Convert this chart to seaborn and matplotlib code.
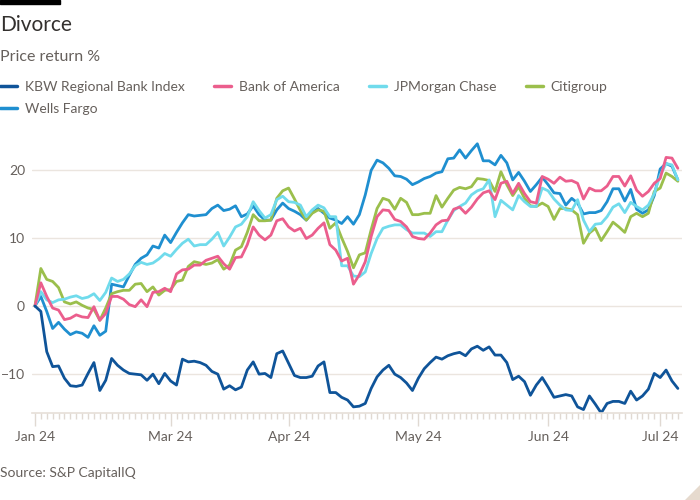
import pandas as pd
import matplotlib.pyplot as plt
import seaborn as sns
from matplotlib.lines import Line2D
from matplotlib.patches import Rectangle, Polygon

# --- dados (retorno de preço %, dias úteis desde 29 jan 2024) ---
kbw = [0, -0.8, -6.7, -8.9, -8.8, -10.6, -11.7, -11.8, -11.6, -9.9,
       -8.3, -12.4, -10.9, -7.7, -8.7, -9.4, -9.9, -10.0, -10.1, -10.9,
       -10.0, -11.4, -9.9, -11.0, -11.6, -7.8, -8.2, -8.1, -8.3, -8.7,
       -9.6, -10.0, -12.2, -11.7, -12.3, -11.9, -9.4, -8.2, -10.0, -9.9,
       -10.5, -7.0, -6.6, -8.4, -10.2, -10.5, -10.5, -10.3, -8.8, -8.2,
       -12.7, -12.7, -13.4, -13.8, -14.8, -14.7, -14.3, -12.1, -10.4, -9.4,
       -8.7, -10.0, -10.5, -11.3, -12.4, -10.6, -9.2, -8.3, -7.5, -7.8,
       -7.3, -7.0, -6.8, -7.3, -6.3, -5.9, -6.5, -6.0, -7.2, -7.2,
       -8.3, -10.8, -10.3, -11.1, -13.1, -11.6, -10.5, -11.9, -13.4, -13.2,
       -13.0, -13.2, -14.8, -15.2, -13.2, -14.4, -15.7, -14.3, -14.0, -14.0,
       -14.3, -12.5, -13.8, -13.2, -12.2, -9.9, -10.5, -9.4, -11.0, -12.1]
bank_of_america = [0, 3.4, 1.4, -0.3, -0.6, -2.0, -1.8, -1.3, -1.6, -1.7,
                   -0.1, -2.1, -1.1, 1.4, 1.4, 1.0, 0.2, -0.1, 0.9, -0.1,
                   2.0, 2.1, 2.6, 2.1, 4.7, 5.3, 5.4, 6.0, 6.0, 6.7,
                   7.0, 7.3, 6.2, 5.4, 7.1, 7.2, 9.0, 11.6, 10.4, 9.7,
                   10.4, 12.5, 12.8, 11.6, 11.0, 11.4, 9.9, 10.4, 11.4, 12.2,
                   9.0, 8.2, 6.6, 7.0, 3.2, 4.6, 6.5, 10.2, 13.1, 14.1,
                   14.0, 12.7, 12.4, 11.6, 10.2, 9.9, 9.8, 10.7, 11.9, 12.5,
                   12.6, 14.2, 14.5, 13.6, 14.5, 15.7, 16.6, 16.9, 15.6, 18.0,
                   18.3, 16.5, 18.0, 16.5, 15.3, 15.1, 19.0, 18.6, 18.0, 18.9,
                   18.3, 18.4, 18.0, 15.7, 17.3, 16.9, 16.9, 17.6, 19.0, 19.0,
                   17.6, 19.1, 17.0, 16.1, 16.8, 18.0, 18.7, 21.8, 21.7, 20.2]
jpmorgan = [0, 2.1, 0.9, 0.5, 0.9, 1.0, 1.3, 1.5, 1.1, 1.3,
            1.8, 0.8, 2.0, 4.1, 3.6, 3.9, 4.7, 5.9, 6.4, 6.1,
            6.3, 6.9, 7.7, 7.3, 8.3, 9.2, 9.8, 8.8, 9.0, 9.0,
            9.8, 10.8, 8.8, 10.1, 11.6, 12.0, 13.1, 15.3, 14.0, 12.9,
            13.4, 15.6, 16.1, 15.3, 15.2, 14.8, 13.1, 14.1, 14.8, 14.4,
            13.1, 13.1, 5.9, 5.9, 4.4, 4.3, 5.0, 7.7, 9.9, 11.4,
            11.7, 11.9, 11.9, 11.2, 10.7, 10.7, 10.7, 10.2, 10.9, 10.9,
            12.6, 14.0, 14.6, 15.1, 16.3, 16.9, 17.2, 18.5, 13.1, 15.5,
            14.8, 14.1, 16.2, 15.3, 14.6, 14.6, 17.3, 16.9, 15.7, 14.8,
            14.1, 14.0, 15.6, 12.6, 10.9, 12.0, 12.1, 13.1, 14.5, 15.0,
            13.7, 15.2, 14.6, 14.1, 14.8, 16.5, 19.2, 20.9, 20.7, 18.5]
citigroup = [0, 5.5, 3.9, 3.6, 2.7, 0.6, 0.3, 0.6, 0.1, -0.3,
             -0.5, -2.1, -0.3, 1.8, 2.1, 2.3, 2.3, 3.2, 3.3, 2.1,
             2.8, 1.6, 2.3, 2.4, 3.6, 3.8, 5.8, 6.5, 6.3, 6.1,
             6.3, 6.8, 5.4, 6.0, 8.2, 8.7, 10.8, 13.4, 12.5, 12.5,
             12.6, 15.8, 16.9, 17.3, 15.7, 14.0, 12.6, 13.6, 14.1, 13.9,
             11.4, 12.2, 10.0, 8.0, 5.6, 7.5, 7.8, 11.2, 14.3, 15.8,
             15.5, 14.2, 15.8, 15.2, 13.4, 13.4, 13.6, 13.6, 16.2, 14.5,
             15.8, 17.0, 17.4, 17.2, 17.5, 18.7, 18.6, 18.4, 16.8, 19.7,
             17.8, 16.2, 17.5, 15.8, 14.7, 14.6, 15.1, 14.6, 12.7, 14.3,
             14.3, 14.1, 13.4, 9.2, 10.7, 11.4, 9.6, 10.9, 12.3, 11.6,
             10.8, 13.1, 13.6, 13.1, 13.6, 16.8, 17.3, 19.5, 19.0, 18.3]
wells_fargo = [0, 1.4, -0.8, -3.3, -2.4, -3.4, -4.2, -3.8, -4.0, -4.6,
               -2.9, -4.3, -3.7, 3.2, 3.0, 2.8, 4.5, 6.1, 7.0, 7.5,
               8.8, 8.5, 10.4, 9.3, 10.8, 12.2, 13.4, 13.2, 13.3, 13.4,
               14.3, 14.8, 14.0, 14.2, 14.7, 13.1, 13.5, 14.7, 13.4, 12.6,
               12.6, 14.1, 15.1, 14.3, 13.9, 13.4, 12.6, 13.7, 14.3, 13.6,
               12.9, 12.6, 12.1, 13.1, 12.0, 13.4, 16.3, 19.9, 21.4, 21.0,
               20.2, 19.1, 19.0, 18.6, 17.8, 18.2, 18.7, 19.0, 19.5, 19.7,
               21.6, 21.7, 22.9, 21.7, 22.8, 23.8, 21.3, 21.3, 20.7, 22.1,
               21.0, 18.5, 19.6, 18.3, 16.8, 17.8, 18.9, 17.8, 16.6, 16.5,
               14.8, 15.8, 15.1, 13.5, 13.7, 13.7, 14.0, 15.3, 17.2, 17.2,
               15.4, 17.1, 14.2, 13.6, 14.1, 16.2, 20.1, 20.9, 20.5, 18.5]

feriados = ['2024-02-19', '2024-03-29', '2024-05-27', '2024-06-19', '2024-07-04']
datas = pd.bdate_range('2024-01-29', '2024-07-05')
datas = datas[~datas.isin(pd.to_datetime(feriados))]

series = {
    'KBW Regional Bank Index': kbw,
    'Bank of America': bank_of_america,
    'JPMorgan Chase': jpmorgan,
    'Citigroup': citigroup,
    'Wells Fargo': wells_fargo,
}
cores = {
    'KBW Regional Bank Index': '#0f5499',
    'Bank of America': '#eb5e8d',
    'JPMorgan Chase': '#70dbec',
    'Citigroup': '#9bbf4c',
    'Wells Fargo': '#1f8fd0',
}

df = pd.concat([
    pd.DataFrame({'dia': range(len(datas)), 'data': datas, 'serie': nome, 'valor': vals})
    for nome, vals in series.items()
])

sns.set_theme(style='white')
plt.rcParams['font.family'] = ['Lato', 'DejaVu Sans']

texto = '#66605c'
grade = '#ebe5df'

fig = plt.figure(figsize=(7, 5), dpi=100)
ax = fig.add_axes([32 / 700, 1 - 413 / 500, 650 / 700, 274 / 500])

# ordem de desenho: rosa por cima
ordem = ['Wells Fargo', 'Citigroup', 'JPMorgan Chase', 'Bank of America', 'KBW Regional Bank Index']
sns.lineplot(data=df, x='dia', y='valor', hue='serie', hue_order=ordem, palette=cores,
             linewidth=2.0, legend=False, ax=ax)

ax.set_xlim(-0.5, 109.7)
ax.set_ylim(-15.7, 24.5)
ax.set_yticks([-10, 0, 10, 20])
ax.yaxis.grid(True, color=grade, linewidth=1)
ax.xaxis.grid(False)
for lado in ['top', 'right', 'left']:
    ax.spines[lado].set_visible(False)
ax.spines['bottom'].set_color('#e6dfd8')
ax.spines['bottom'].set_linewidth(1.2)

# rótulos no primeiro dia útil de cada mês (fev omitido, colado em jan)
dias = pd.Series(range(len(datas)), index=datas)
primeiros = dias.groupby(datas.month).min().drop(2)
ax.set_xticks(list(primeiros.values))
ax.set_xticklabels([datas[i].strftime('%b %y') for i in primeiros.values])
ax.set_xticks(range(len(datas)), minor=True)
ax.tick_params(axis='x', which='both', bottom=True, direction='out')
ax.tick_params(axis='x', which='major', length=9, width=1, color='#e0d9d2',
               labelsize=10, labelcolor=texto, pad=4)
ax.tick_params(axis='x', which='minor', length=4, width=1, color='#e0d9d2')
ax.tick_params(axis='y', length=0, labelsize=10, labelcolor=texto, pad=5)
ax.set_xlabel('')
ax.set_ylabel('')

# título, subtítulo, fonte
fig.text(0, 1 - 25 / 500, 'Divorce', fontsize=15, color='#33302e', va='center')
fig.text(0, 1 - 57 / 500, 'Price return %', fontsize=11.5, color=texto, va='center')
fig.text(0, 1 - 473 / 500, 'Source: S&P CapitalIQ', fontsize=10, color=texto, va='center')

# legenda (preenche por colunas)
ordem_leg = ['KBW Regional Bank Index', 'Wells Fargo', 'Bank of America', 'JPMorgan Chase', 'Citigroup']
handles = [Line2D([], [], color=cores[n], linewidth=2.5) for n in ordem_leg]
fig.legend(handles, ordem_leg, loc='upper left', bbox_to_anchor=(0, 1 - 81 / 500),
           ncol=4, frameon=False, fontsize=10, labelcolor=texto,
           handlelength=1.25, handletextpad=0.55, columnspacing=2.1,
           labelspacing=0.72, borderpad=0, borderaxespad=0)

fig.patches.append(Rectangle((0, 1 - 4 / 500), 60 / 700, 4 / 500,
                             transform=fig.transFigure, color='black'))
fig.patches.append(Polygon([(1, 15 / 500), (1, 0), (685 / 700, 0)], closed=True,
                           transform=fig.transFigure, color='#e6dace'))

plt.savefig('out.png', dpi=100)
